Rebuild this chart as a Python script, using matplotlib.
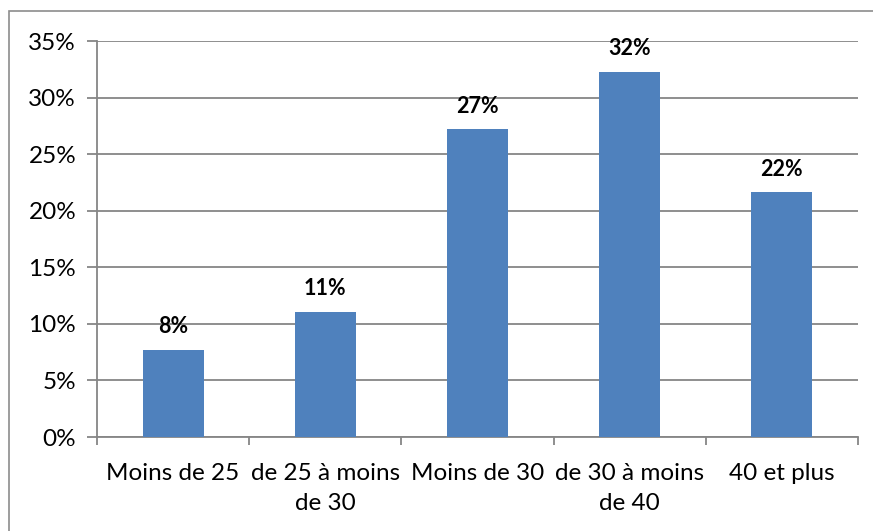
import numpy as np
import matplotlib.pyplot as plt
from matplotlib.patches import Rectangle
from matplotlib.ticker import PercentFormatter

# catégories d'âge et parts
categories = ["Moins de 25", "de 25 à moins\nde 30", "Moins de 30", "de 30 à moins\nde 40", "40 et plus"]
valeurs = [0.077, 0.1105, 0.272, 0.323, 0.2165]
etiquettes = ["8%", "11%", "27%", "32%", "22%"]

plt.rcParams['font.family'] = ['Lato', 'DejaVu Sans']

W, H = 873, 531
fig = plt.figure(figsize=(W / 100, H / 100), dpi=100)
ax = fig.add_axes([97 / W, 1 - 437 / H, (858 - 97) / W, (437 - 41) / H])

# cadre extérieur (coupé à droite et en bas)
fig.patches.append(Rectangle((9 / W, -0.1), 1.2, 1 - 11 / H + 0.1, transform=fig.transFigure,
                             fill=False, edgecolor='#8c8c8c', linewidth=1.2))

x = np.arange(len(categories))
ax.bar(x, valeurs, width=0.4, color='#4F81BD', zorder=3)
for xi, v, lab in zip(x, valeurs, etiquettes):
    ax.annotate(lab, (xi, v), xytext=(0, 9), textcoords='offset points',
                ha='center', va='bottom', fontsize=15.5, fontweight='bold')

ax.set_xlim(-0.5, len(categories) - 0.5)
ax.set_ylim(0, 0.35)
ax.set_yticks(np.arange(0, 0.351, 0.05))
ax.yaxis.set_major_formatter(PercentFormatter(1.0, decimals=0))
ax.yaxis.grid(True, color='#868686', linewidth=1.3, zorder=0)

ax.set_xticks(x)
ax.set_xticklabels(categories, linespacing=1.55)
ax.set_xticks(np.arange(-0.5, len(categories), 1), minor=True)
ax.tick_params(axis='x', which='major', length=0, pad=18.5, labelsize=17.5)
ax.tick_params(axis='x', which='minor', length=6, width=1.3, color='#868686', direction='out')
ax.tick_params(axis='y', length=7, width=1.3, color='#868686', labelsize=17.5, pad=8)

for s in ['top', 'right']:
    ax.spines[s].set_visible(False)
for s in ['left', 'bottom']:
    ax.spines[s].set_color('#868686')
    ax.spines[s].set_linewidth(1.3)

fig.savefig('out.png', dpi=100)
